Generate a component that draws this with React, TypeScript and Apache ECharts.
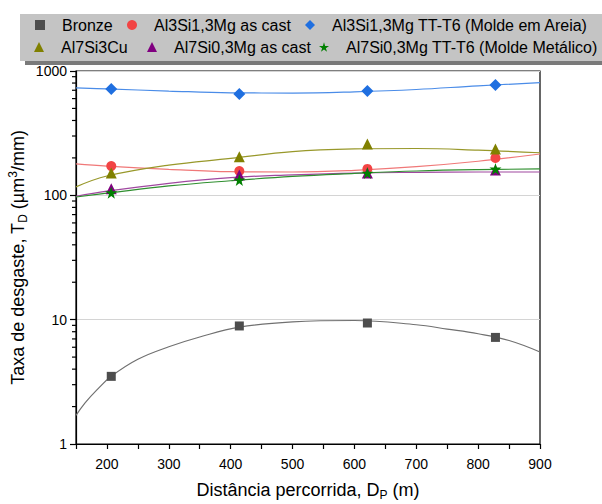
import React, { useEffect, useRef } from "react";
import * as echarts from "echarts";

const FONT = "Liberation Sans";

const xMin = 150;
const xMax = 900;
const yMinorTicks = [2, 3, 4, 5, 6, 7, 8, 9, 20, 30, 40, 50, 60, 70, 80, 90, 200, 300, 400, 500, 600, 700, 800, 900];

const names = [
  "Bronze",
  "Al3Si1,3Mg as cast",
  "Al3Si1,3Mg TT-T6 (Molde em Areia)",
  "Al7Si3Cu",
  "Al7Si0,3Mg as cast",
  "Al7Si0,3Mg TT-T6 (Molde Metálico)",
];

const distances = [207, 414, 621, 828];
const bronze = [3.5, 8.9, 9.4, 7.2];
const al3CastVals = [172, 157, 163, 200];
const al3T6Vals = [718, 654, 692, 773];
const al7CuVals = [151, 204, 259, 236];
const al7CastVals = [113, 146, 151, 160];
const al7T6Vals = [105, 133, 151, 163];

const fitBronze = [[150, 1.7], [165, 2.15], [183, 2.7], [207, 3.5], [250, 4.8], [300, 6.05], [350, 7.25], [414, 8.7], [500, 9.6], [600, 9.85], [700, 9.1], [750, 8.4], [800, 7.7], [850, 6.8], [900, 5.5]];
const fitAl3Cast = [[150, 179], [200, 172], [300, 162], [400, 155], [500, 154], [600, 159], [700, 170], [800, 188], [900, 215]];
const fitAl3T6 = [[150, 731], [200, 718], [300, 690], [400, 668], [500, 665], [600, 680], [700, 710], [800, 760], [900, 805]];
const fitAl7Cu = [[150, 117], [200, 143], [300, 175], [400, 198], [500, 225], [600, 236], [700, 238], [800, 231], [900, 220]];
const fitAl7Cast = [[150, 98], [200, 108], [300, 125], [400, 139], [500, 146], [600, 151], [700, 153], [800, 154], [900, 154]];
const fitAl7T6 = [[150, 97], [200, 104], [300, 119], [400, 131], [500, 142], [600, 150], [700, 157], [800, 161], [900, 163]];

const markerColors = ["#4d4d4d", "#f24444", "#1f6fe0", "#808000", "#800080", "#008000"];
const fitColors = ["#707070", "#f07878", "#4a8ce8", "#98982a", "#a048a0", "#2f8f2f"];
const STAR = "path://M50,0 L61,35 L98,35 L68,57 L79,91 L50,70 L21,91 L32,57 L2,35 L39,35 Z";
const symbols = ["rect", "circle", "diamond", "triangle", "triangle", STAR];
const symbolSizes = [9, 10, 12, 11, 11, 12];

const seriesVals = [bronze, al3CastVals, al3T6Vals, al7CuVals, al7CastVals, al7T6Vals];
const fits = [fitBronze, fitAl3Cast, fitAl3T6, fitAl7Cu, fitAl7Cast, fitAl7T6];

// legend layout: [left, top] per item
const legendPos = [
  [35, 17], [127, 17], [305, 17],
  [34, 39], [147, 39], [319, 39],
];

export default function App() {
  const ref = useRef<HTMLDivElement>(null);
  useEffect(() => {
    if (!ref.current) return;
    const chart = echarts.init(ref.current, null, { renderer: "svg" });

    const series: any[] = [];
    fits.forEach((f, i) => {
      series.push({
        name: names[i] + " fit",
        type: "line",
        data: f,
        smooth: 0.4,
        showSymbol: false,
        symbol: "none",
        lineStyle: { color: fitColors[i], width: 1.2 },
        z: 2,
        silent: true,
      });
    });
    seriesVals.forEach((vals, i) => {
      series.push({
        name: names[i],
        type: "scatter",
        data: distances.map((d, j) => [d, vals[j]]),
        symbol: symbols[i],
        symbolSize: symbolSizes[i],
        itemStyle: { color: markerColors[i], opacity: 1 },
        z: 4,
      });
    });
    series.push({
      type: "custom",
      name: "minorTicks",
      data: yMinorTicks.map((v) => [xMin, v]),
      renderItem: (params: any, api: any) => {
        const p = api.coord([api.value(0), api.value(1)]);
        return {
          type: "line",
          shape: { x1: p[0] - 4, y1: p[1], x2: p[0], y2: p[1] },
          style: { stroke: "#000", lineWidth: 1.2 },
        };
      },
      clip: false,
      silent: true,
      z: 5,
    });

    const legends = names.map((n, i) => ({
      data: [{ name: n, icon: symbols[i] }],
      left: legendPos[i][0],
      top: legendPos[i][1],
      padding: 0,
      itemWidth: 10,
      itemHeight: 10,
      itemGap: 0,
      selectedMode: false,
      textStyle: { fontFamily: FONT, fontSize: 16, color: "#000", padding: [0, 0, 0, 12] },
    }));

    chart.setOption({
      animation: false,
      backgroundColor: "#fff",
      graphic: [
        { type: "rect", shape: { x: 25, y: 60, width: 577, height: 5 }, style: { fill: "#7a7a7a" }, z: -1 },
        { type: "rect", shape: { x: 20, y: 14, width: 582, height: 47 }, style: { fill: "#c4c4c4" }, z: -1 },
      ],
      legend: legends,
      grid: {
        left: 76,
        right: 62,
        top: 71,
        bottom: 60,
        outerBoundsMode: "none",
        containLabel: false,
        show: true,
        borderColor: "#000",
        borderWidth: 1.2,
        backgroundColor: "transparent",
      },
      xAxis: {
        type: "value",
        min: xMin,
        max: xMax,
        interval: 50,
        name: "{a|Distância percorrida, D}{sub|P}{a| (m)}",
        nameLocation: "middle",
        nameGap: 35,
        nameMoveOverlap: false,
        nameTextStyle: {
          rich: {
            a: { fontFamily: FONT, fontSize: 18, color: "#000" },
            sub: { fontFamily: FONT, fontSize: 12, color: "#000", padding: [10, 0, 0, 0] },
          },
        },
        axisLine: { show: true, onZero: false, lineStyle: { color: "#000", width: 1.2 } },
        axisTick: { show: true, inside: false, length: 5, lineStyle: { color: "#000", width: 1.2 } },
        axisLabel: {
          fontFamily: FONT,
          fontSize: 14,
          color: "#000",
          margin: 13,
          formatter: (v: number) => (v % 100 === 0 ? String(v) : ""),
        },
        splitLine: { show: false },
      },
      yAxis: {
        type: "log",
        logBase: 10,
        min: 1,
        max: 1000,
        name: "{a|Taxa de desgaste, T}{sub|D}{a| (µm}{sup|3}{a|/mm)}",
        nameLocation: "middle",
        nameRotate: 90,
        nameGap: 47,
        nameMoveOverlap: false,
        nameTextStyle: {
          rich: {
            a: { fontFamily: FONT, fontSize: 18, color: "#000" },
            sub: { fontFamily: FONT, fontSize: 12, color: "#000", padding: [10, 0, 0, 0] },
            sup: { fontFamily: FONT, fontSize: 12, color: "#000", padding: [0, 0, 10, 0] },
          },
        },
        axisLine: { show: true, lineStyle: { color: "#000", width: 1.2 } },
        axisTick: { show: true, inside: false, length: 6, lineStyle: { color: "#000", width: 1.2 } },
        axisLabel: {
          fontFamily: FONT,
          fontSize: 14,
          color: "#000",
          margin: 9,
          formatter: (v: number) => String(Math.round(v)),
        },
        splitLine: { show: true, lineStyle: { color: "#d4d4d4", width: 1 } },
      },
      series,
    });
    return () => chart.dispose();
  }, []);
  return <div ref={ref} style={{ width: 602, height: 504, position: "absolute", left: 0, top: 0 }} />;
}
